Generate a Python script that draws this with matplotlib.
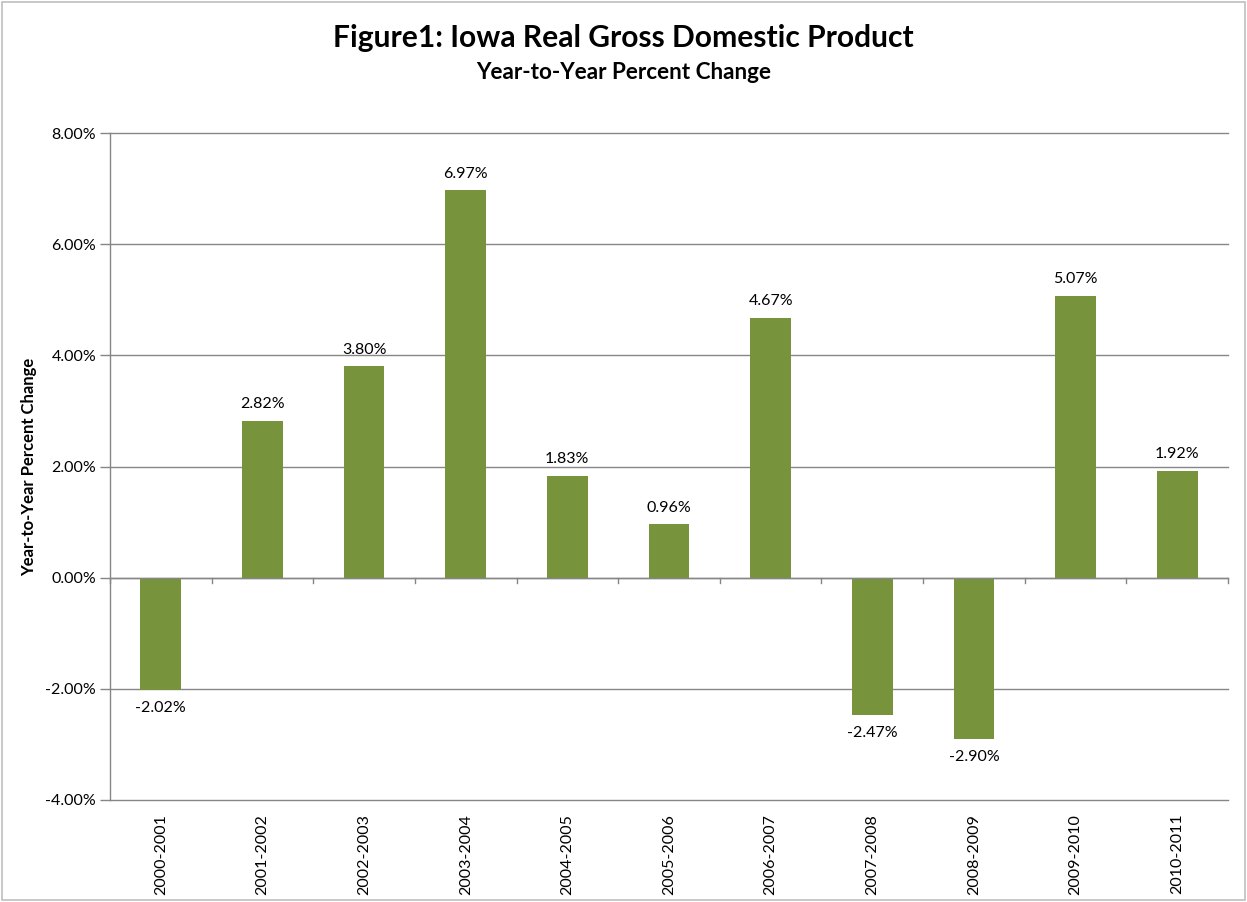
import matplotlib
matplotlib.use("Agg")
import matplotlib.pyplot as plt
from matplotlib.patches import Rectangle
from matplotlib.ticker import FuncFormatter, MultipleLocator

periods = ["2000-2001", "2001-2002", "2002-2003", "2003-2004", "2004-2005",
           "2005-2006", "2006-2007", "2007-2008", "2008-2009", "2009-2010",
           "2010-2011"]
pct_change = [-2.02, 2.82, 3.80, 6.97, 1.83, 0.96, 4.67, -2.47, -2.90, 5.07, 1.92]

title = "Figure1: Iowa Real Gross Domestic Product"
subtitle = "Year-to-Year Percent Change"
ylabel = "Year-to-Year Percent Change"

bar_color = "#77933C"
grid_color = "#868686"
font = ["Lato", "DejaVu Sans"]

plt.rcParams["font.family"] = font

fig = plt.figure(figsize=(12.47, 9.02), dpi=100)
fig.patch.set_facecolor("white")
fig.add_artist(Rectangle((0.0015, 0.002), 0.997, 0.996, transform=fig.transFigure,
                         fill=False, edgecolor="#BFBFBF", linewidth=1.2))

ax = fig.add_axes([0.0882, 0.1131, 0.8966, 0.7394])
x = list(range(len(periods)))
ax.bar(x, pct_change, width=0.40, color=bar_color, zorder=3)

ax.set_xlim(-0.5, len(periods) - 0.5)
ax.set_ylim(-4, 8)
ax.yaxis.set_major_locator(MultipleLocator(2))
ax.yaxis.set_major_formatter(FuncFormatter(lambda v, p: f"{v:.2f}%"))
ax.grid(axis="y", color=grid_color, linewidth=1.0, zorder=0)
for gl in ax.get_ygridlines():
    gl.set_clip_on(False)
ax.tick_params(axis="y", length=7, width=1, color=grid_color, labelsize=11.5,
               pad=3, labelcolor="black")

for s in ["top", "right", "bottom"]:
    ax.spines[s].set_visible(False)
ax.spines["left"].set_color(grid_color)
ax.spines["left"].set_linewidth(1.0)

# zero line with category-boundary tick marks
ax.axhline(0, color=grid_color, linewidth=1.0, zorder=4)
for b in [i - 0.5 for i in range(len(periods) + 1)]:
    ax.plot([b, b], [0, -0.1], color=grid_color, linewidth=1.0, zorder=4,
            clip_on=False)

ax.set_xticks(x)
ax.set_xticklabels(periods, rotation=90, fontsize=11.5)
ax.tick_params(axis="x", length=0, pad=10)

ax.set_ylabel(ylabel, fontsize=12, fontweight="bold", labelpad=6)

for xi, v in zip(x, pct_change):
    if v >= 0:
        ax.annotate(f"{v:.2f}%", (xi, v), xytext=(0, 12), textcoords="offset points",
                    ha="center", va="center", fontsize=11.5)
    else:
        ax.annotate(f"{v:.2f}%", (xi, v), xytext=(0, -13), textcoords="offset points",
                    ha="center", va="center", fontsize=11.5)

fig.text(0.5, 0.958, title, ha="center", va="center", fontsize=21.6, fontweight="bold")
fig.text(0.5, 0.920, subtitle, ha="center", va="center", fontsize=16.2, fontweight="bold")

fig.savefig("out.png", dpi=100)
